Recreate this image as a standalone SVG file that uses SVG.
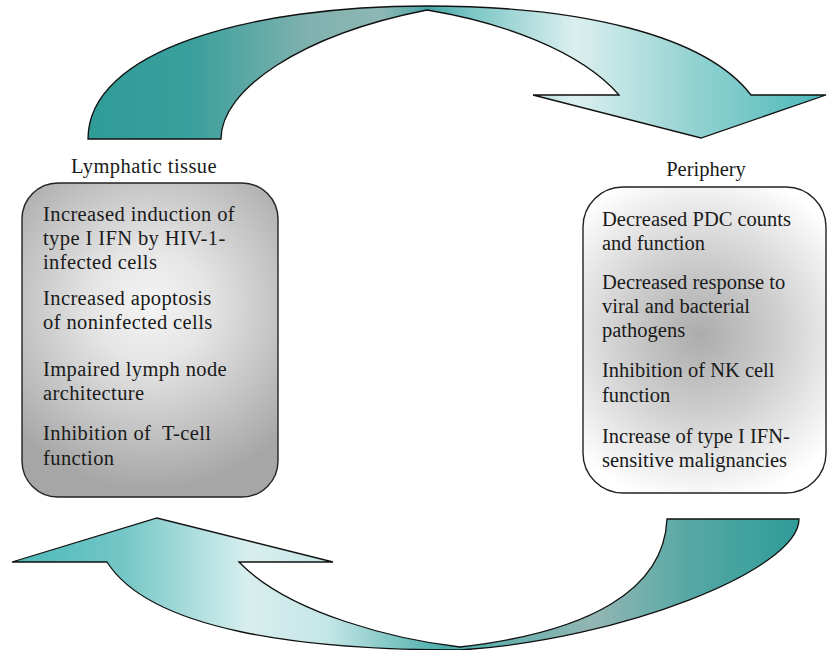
<svg xmlns="http://www.w3.org/2000/svg" width="827" height="650" viewBox="0 0 827 650">
<defs>
<linearGradient id="gTop" gradientUnits="userSpaceOnUse" x1="88" y1="0" x2="826" y2="0">
<stop offset="0" stop-color="#2f9c98"/>
<stop offset="0.14" stop-color="#3a9f9c"/>
<stop offset="0.3" stop-color="#80b2af"/>
<stop offset="0.4" stop-color="#8db7b4"/>
<stop offset="0.46" stop-color="#45a7a5"/>
<stop offset="0.52" stop-color="#7cc6c6"/>
<stop offset="0.66" stop-color="#dcefef"/>
<stop offset="0.82" stop-color="#94d2d2"/>
<stop offset="1" stop-color="#4bb8b8"/>
</linearGradient>
<linearGradient id="gBot" gradientUnits="userSpaceOnUse" x1="12" y1="0" x2="799" y2="0">
<stop offset="0" stop-color="#4bb8b8"/>
<stop offset="0.14" stop-color="#74c6c6"/>
<stop offset="0.3" stop-color="#d8eeee"/>
<stop offset="0.4" stop-color="#c5e6e6"/>
<stop offset="0.55" stop-color="#4aadab"/>
<stop offset="0.74" stop-color="#93b6b3"/>
<stop offset="0.86" stop-color="#56a8a5"/>
<stop offset="1" stop-color="#2f9c98"/>
</linearGradient>
<radialGradient id="gLeft" gradientUnits="userSpaceOnUse" cx="150" cy="305" r="185">
<stop offset="0" stop-color="#f4f4f4"/>
<stop offset="0.3" stop-color="#e6e6e6"/>
<stop offset="0.7" stop-color="#c2c2c2"/>
<stop offset="1" stop-color="#a6a6a6"/>
</radialGradient>
<radialGradient id="gRight" gradientUnits="userSpaceOnUse" cx="700" cy="335" r="170">
<stop offset="0" stop-color="#acacac"/>
<stop offset="0.45" stop-color="#cdcdcd"/>
<stop offset="1" stop-color="#ffffff"/>
</radialGradient>
</defs>
<style>
.arrow{stroke:#111;stroke-width:1.3;stroke-linejoin:miter}
.box{stroke:#222;stroke-width:1.4}
text{font-family:"Liberation Serif","Times New Roman",serif;font-size:20.5px;letter-spacing:0.4px;fill:#1a1a1a}
#periphery text{letter-spacing:0}
</style>
<g id="connectors">
<path class="arrow" fill="url(#gTop)" d="M88,139 L221,139 C221,90 300,35 427,10 C500,22 580,50 619,95 L533,95 L701,138 L826,95 L751,95 C705,35 580,6 427,6 C250,6 88,50 88,139 Z"/>
<path class="arrow" fill="url(#gBot)" d="M799,519 L667,519 C664,590 590,632 460,647 C400,640 290,615 239,562 L333,562 L157,518 L12,562 L107,562 C150,630 300,650 460,650 C620,640 799,570 799,519 Z"/>
</g>
<g id="lymphatic">
<text x="144" y="173" text-anchor="middle">Lymphatic tissue</text>
<rect class="box" x="22" y="183" width="256" height="314" rx="36" ry="36" fill="url(#gLeft)"/>
<text x="43" y="221">Increased induction of</text>
<text x="43" y="245">type I IFN by HIV-1-</text>
<text x="43" y="269">infected cells</text>
<text x="43" y="305">Increased apoptosis</text>
<text x="43" y="329">of noninfected cells</text>
<text x="43" y="376">Impaired lymph node</text>
<text x="43" y="400">architecture</text>
<text x="43" y="440" xml:space="preserve">Inhibition of  T-cell</text>
<text x="43" y="465">function</text>
</g>
<g id="periphery">
<text x="706" y="176" text-anchor="middle">Periphery</text>
<rect class="box" x="583" y="187" width="243" height="306" rx="40" ry="40" fill="url(#gRight)"/>
<text x="602" y="226">Decreased PDC counts</text>
<text x="602" y="250">and function</text>
<text x="602" y="289">Decreased response to</text>
<text x="602" y="313">viral and bacterial</text>
<text x="602" y="337">pathogens</text>
<text x="602" y="377">Inhibition of NK cell</text>
<text x="602" y="402">function</text>
<text x="602" y="443">Increase of type I IFN-</text>
<text x="602" y="467">sensitive malignancies</text>
</g>
</svg>
